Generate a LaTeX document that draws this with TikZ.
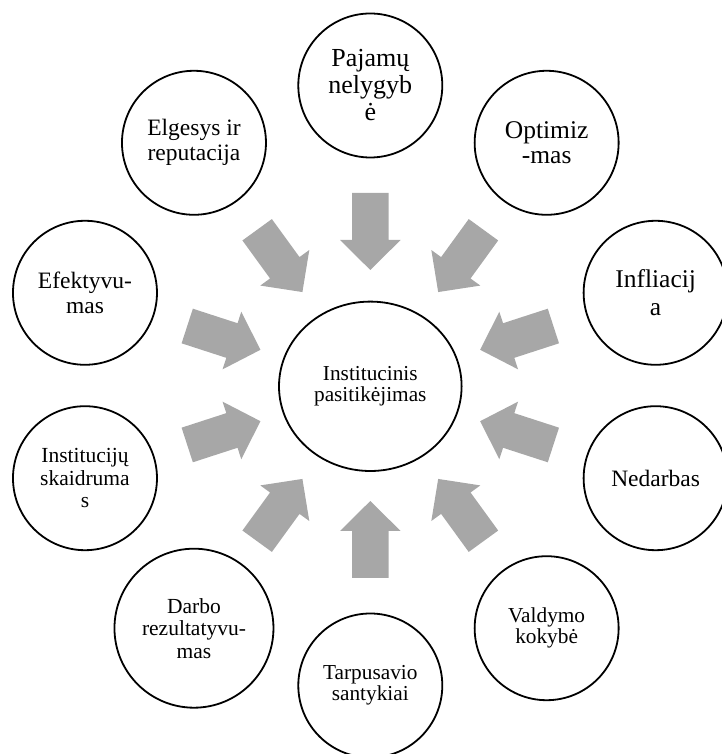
\documentclass[tikz,border=0pt]{standalone}
\usepackage{fontspec}
\setmainfont{Liberation Serif}
\usetikzlibrary{calc,shapes.geometric}
\definecolor{arrowgray}{RGB}{167,167,167}
\begin{document}
\begin{tikzpicture}[x=1pt,y=1pt,
  bubble/.style={circle, draw=black, line width=1.8pt, minimum size=144pt,
    inner sep=0pt, align=center, text=black},
  hub/.style={ellipse, draw=black, line width=1.8pt, minimum width=182.6pt,
    minimum height=169.4pt, inner sep=0pt, align=center, text=black},
  fa/.style={font=\fontsize{26}{27}\selectfont},
  fb/.style={font=\fontsize{25.5}{25}\selectfont},
  fc/.style={font=\fontsize{23.5}{25}\selectfont},
  fd/.style={font=\fontsize{21.5}{22.5}\selectfont},
  fe/.style={font=\fontsize{21.3}{20.8}\selectfont},
  blockarrow/.style={fill=arrowgray, draw=none}]
\useasboundingbox (0,0) rectangle (721,754);
\coordinate (C) at (370.3,368.5);
% central node
\node[hub, fe] (hub) at (370.3,367.7) {Institucinis\\pasitikėjimas};
% outer nodes
\node[bubble, fa] (pajamu) at ($(C)+(90:300)$) {Pajamų\\nelygyb\\ė};
\node[bubble, fc] (elgesys) at ($(C)+(126:300)$) {Elgesys ir\\reputacija};
\node[bubble, fc] (efekt) at ($(C)+(162:300)$) {Efektyvu-\\mas};
\node[bubble, fd] (instit) at ($(C)+(198:300)$) {Institucijų\\skaidruma\\s};
\node[bubble, fd, minimum size=159pt] (darbo) at ($(C)+(234:300)$) {Darbo\\rezultatyvu-\\mas};
\node[bubble, fe] (tarp) at ($(C)+(270:300)$) {Tarpusavio\\santykiai};
\node[bubble, fe] (vald) at ($(C)+(306:300)$) {Valdymo\\kokybė};
\node[bubble, fc] (nedarb) at ($(C)+(342:300)$) {Nedarbas};
\node[bubble, font=\fontsize{25.5}{28}\selectfont] (infl) at ($(C)+(18:300)$) {Infliacij\\a};
\node[bubble, fb] (optim) at ($(C)+(54:300)$) {Optimiz\\-mas};
% block arrows pointing to the hub
\foreach \a in {90,126,162,198,234,270,306,342,18,54}{
  \fill[blockarrow, shift={(C)}, rotate=\a]
    (192.5,18.2) -- (145.5,18.2) -- (145.5,30.3) -- (115.5,0)
    -- (145.5,-30.3) -- (145.5,-18.2) -- (192.5,-18.2) -- cycle;
}
\end{tikzpicture}
\end{document}
